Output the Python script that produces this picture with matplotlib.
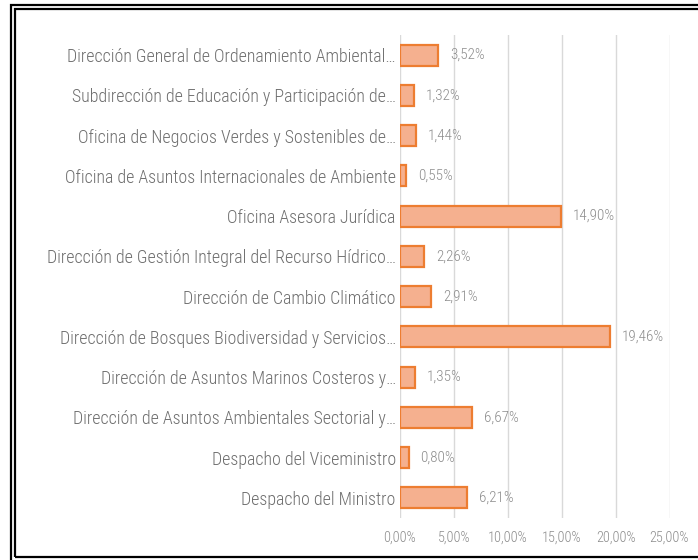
import matplotlib
matplotlib.use("Agg")
import matplotlib.pyplot as plt
from matplotlib.patches import Rectangle
from matplotlib import font_manager

categories = [
    "Dirección General de Ordenamiento Ambiental…",
    "Subdirección de Educación y Participación de…",
    "Oficina de Negocios Verdes y Sostenibles de…",
    "Oficina de Asuntos Internacionales de Ambiente",
    "Oficina Asesora Jurídica",
    "Dirección de Gestión Integral del Recurso Hídrico…",
    "Dirección de Cambio Climático",
    "Dirección de Bosques Biodiversidad y Servicios…",
    "Dirección de Asuntos Marinos Costeros y…",
    "Dirección de Asuntos Ambientales Sectorial y…",
    "Despacho del Viceministro",
    "Despacho del Ministro",
]
values = [3.52, 1.32, 1.44, 0.55, 14.90, 2.26, 2.91, 19.46, 1.35, 6.67, 0.80, 6.21]
xticks = [0, 5, 10, 15, 20, 25]

names = {f.name for f in font_manager.fontManager.ttflist}
fam = "DejaVu Sans"
for cand in ["Arial Narrow", "Liberation Sans Narrow", "Roboto Condensed", "Archivo Narrow",
             "PT Sans Narrow", "Open Sans Condensed", "Asap Condensed"]:
    if cand in names:
        fam = cand
        break
plt.rcParams['font.family'] = [fam, 'DejaVu Sans']

fig = plt.figure(figsize=(6.98, 5.6), dpi=100)
ax = fig.add_axes([400/698, 1-518/560, 269.5/698, 483/560])
renderer = fig.canvas.get_renderer()

def fit_size(s, target_px, weight="normal"):
    t = fig.text(0, 0, s, fontsize=10, weight=weight)
    w = t.get_window_extent(renderer).width
    t.remove()
    return 10 * target_px / w

lab_fs = fit_size("Dirección de Gestión Integral del Recurso Hídrico…", 348, "light")
val_fs = fit_size("14,90%", 42, "light")
tick_fs = fit_size("10,00%", 40, "light")

y = list(range(len(categories)))
ax.barh(y, values, height=0.52, color="#F5B08F", edgecolor="#ED7D31", linewidth=1.6, zorder=3)
for yi, v in zip(y, values):
    ax.text(v + 1.1, yi, f"{v:.2f}%".replace(".", ","), va="center", ha="left",
            fontsize=val_fs, color="#8C8C8C", weight="light")
ax.set_yticks(y)
ax.set_yticklabels(categories, fontsize=lab_fs, color="#6E6E6E", weight="light")
ax.set_ylim(len(categories) - 0.5, -0.5)
ax.set_xlim(0, 25)
ax.set_xticks(xticks)
ax.set_xticklabels([f"{t:.2f}%".replace(".", ",") for t in xticks], fontsize=tick_fs,
                   color="#8C8C8C", weight="light")
ax.grid(axis="x", color="#D9D9D9", linewidth=1, zorder=0)
for s in ax.spines.values():
    s.set_visible(False)
ax.tick_params(axis="y", length=0, pad=3)
ax.tick_params(axis="x", length=0, pad=9)

# double frame
fig.patches.append(Rectangle((11/698, -0.05), 1.0, 1 - 5/560 + 0.05, transform=fig.transFigure,
                             fill=False, edgecolor="black", linewidth=1.6))
fig.patches.append(Rectangle((15/698, 3/560), 1.0, 1 - 9/560 - 3/560, transform=fig.transFigure,
                             fill=False, edgecolor="black", linewidth=1.6))

fig.savefig("out.png", dpi=100)
